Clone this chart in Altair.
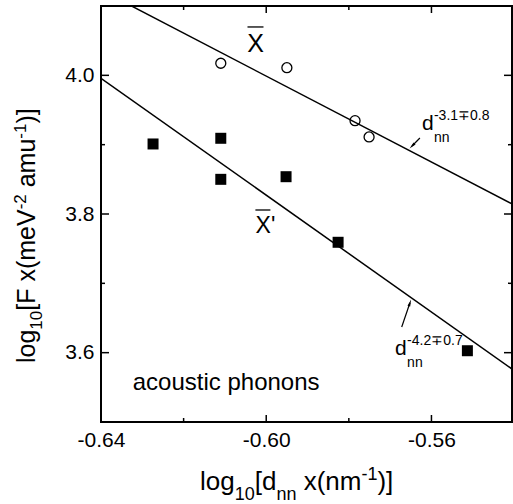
import altair as alt
import pandas as pd

# ---------------- data ----------------
circle_x = [-0.6110, -0.5950, -0.5785, -0.5751]
circle_y = [4.0174, 4.0110, 3.9346, 3.9111]
square_x = [-0.6274, -0.6110, -0.6110, -0.5952, -0.5826, -0.5513]
square_y = [3.9010, 3.9092, 3.8500, 3.8538, 3.7592, 3.6028]
fit_x = [-0.64, -0.5405]
upper_fit_y = [4.1229, 3.8145]
lower_fit_y = [3.9958, 3.5764]

x_major = [-0.64, -0.60, -0.56]
x_minor = [-0.62, -0.58]
y_major = [3.6, 3.8, 4.0]
y_minor = [3.7, 3.9]

X_DOMAIN = [-0.64, -0.5405]
Y_DOMAIN = [3.5, 4.1]

# annotation anchors (data coordinates)
xbar_pos = [-0.6026, 4.0337]
xbarp_pos = [-0.6002, 3.7726]
d_upper_pos = [-0.5623, 3.9211]
d_lower_pos = [-0.5688, 3.5966]
arrow_x = [-0.5628, -0.5672]
arrow_y = [3.9096, 3.6370]
arrow_x2 = [-0.5647, -0.5652]
arrow_y2 = [3.8981, 3.6720]
arrow_angle = [225, 19]
label_pos = [-0.6097, 3.5461]

W, H = 411, 416
FONT = "Liberation Sans"

xs = alt.Scale(domain=X_DOMAIN, nice=False, zero=False)
ys = alt.Scale(domain=Y_DOMAIN, nice=False, zero=False)

x_axis = alt.Axis(values=x_major,
                  labelExpr="datum.value < 0 ? '-' + format(-datum.value, '.2f') : format(datum.value, '.2f')",
                  ticks=False, domain=False, grid=False, labelFont=FONT, labelFontSize=21,
                  labelColor="black", labelPadding=7, title=None, labelFlush=False,
                  labelOverlap=False)
y_axis = alt.Axis(values=y_major, format=".1f", ticks=False, domain=False, grid=False,
                  labelFont=FONT, labelFontSize=21, labelColor="black", labelPadding=7,
                  title=None, labelFlush=False, labelOverlap=False)


def X(field):
    return alt.X(field, type="quantitative", scale=xs, axis=x_axis)


def Y(field):
    return alt.Y(field, type="quantitative", scale=ys, axis=y_axis)


# points
circ_df = pd.DataFrame({"x": circle_x, "y": circle_y})
sq_df = pd.DataFrame({"x": square_x, "y": square_y})
circles = alt.Chart(circ_df).mark_point(shape="circle", filled=False, size=100, strokeWidth=1.3,
                                        color="black", opacity=1).encode(
    x=X("x"), y=Y("y"))
squares = alt.Chart(sq_df).mark_point(shape="square", filled=True, size=121, color="black",
                                      opacity=1).encode(x=X("x"), y=Y("y"))

# fit lines
fit_df = pd.DataFrame({
    "x": fit_x + fit_x,
    "y": upper_fit_y + lower_fit_y,
    "s": ["upper"] * 2 + ["lower"] * 2,
})
fits = alt.Chart(fit_df).mark_line(color="black", strokeWidth=1.5, clip=True).encode(
    x=X("x"), y=Y("y"), detail="s:N")


# inward ticks on all four sides
def xticks(vals, length):
    df = pd.DataFrame({"v": vals})
    base = alt.Chart(df).mark_rule(color="black", strokeWidth=1.5)
    return [base.encode(x=X("v"), y=alt.value(H), y2=alt.value(H - length)),
            base.encode(x=X("v"), y=alt.value(0), y2=alt.value(length))]


def yticks(vals, length):
    df = pd.DataFrame({"v": vals})
    base = alt.Chart(df).mark_rule(color="black", strokeWidth=1.5)
    return [base.encode(y=Y("v"), x=alt.value(0), x2=alt.value(length)),
            base.encode(y=Y("v"), x=alt.value(W), x2=alt.value(W - length))]


tick_layers = xticks(x_major, 7) + xticks(x_minor, 4) + yticks(y_major, 8) + yticks(y_minor, 4)

# X-bar labels
xb_df = pd.DataFrame({"x": [xbar_pos[0], xbarp_pos[0]], "y": [xbar_pos[1], xbarp_pos[1]],
                      "t": ["X", "X'"], "fs": [25, 23]})
xb_text = alt.Chart(xb_df).mark_text(font=FONT, color="black", align="center",
                                     baseline="alphabetic").encode(
    x=X("x"), y=Y("y"), text="t:N", size=alt.Size("fs:Q", scale=None))
bar1 = alt.Chart(pd.DataFrame({"x": [xbar_pos[0]], "y": [xbar_pos[1]]})).mark_rule(
    color="black", strokeWidth=1.3, xOffset=-8, x2Offset=8, yOffset=-25, y2Offset=-25).encode(
    x=X("x"), x2="x", y=Y("y"), y2="y")
bar2 = alt.Chart(pd.DataFrame({"x": [xbarp_pos[0]], "y": [xbarp_pos[1]]})).mark_rule(
    color="black", strokeWidth=1.3, xOffset=-10, x2Offset=5, yOffset=-23, y2Offset=-23).encode(
    x=X("x"), x2="x", y=Y("y"), y2="y")


# d_nn annotations
def dlabel(pos, sup):
    df = pd.DataFrame({"x": [pos[0]], "y": [pos[1]]})
    base = alt.Chart(df)
    return [
        base.mark_text(text="d", font=FONT, fontSize=21, align="left", baseline="alphabetic",
                       color="black").encode(x=X("x"), y=Y("y")),
        base.mark_text(text="nn", font=FONT, fontSize=14, align="left", baseline="alphabetic",
                       color="black", dx=12, dy=12).encode(x=X("x"), y=Y("y")),
        base.mark_text(text=sup, font=FONT, fontSize=14, align="left", baseline="alphabetic",
                       color="black", dx=12, dy=-10).encode(x=X("x"), y=Y("y")),
    ]


d_layers = dlabel(d_upper_pos, "-3.1\u22130.8") + dlabel(d_lower_pos, "-4.2\u22130.7")

arr_df = pd.DataFrame({"x": arrow_x, "y": arrow_y, "x2": arrow_x2, "y2": arrow_y2,
                       "a": arrow_angle})
shafts = alt.Chart(arr_df).mark_rule(color="black", strokeWidth=1.2).encode(
    x=X("x"), y=Y("y"), x2="x2", y2="y2")
heads = alt.Chart(arr_df).mark_point(shape="M0,-1L0.4,1L-0.4,1Z", filled=True, size=50,
                                     color="black", opacity=1).encode(
    x=X("x2"), y=Y("y2"), angle=alt.Angle("a:Q", scale=None))

lbl = alt.Chart(pd.DataFrame({"x": [label_pos[0]], "y": [label_pos[1]]})).mark_text(
    text="acoustic phonons", font=FONT, fontSize=24, align="center", baseline="alphabetic",
    color="black").encode(x=X("x"), y=Y("y"))

# axis titles built from pieces (sub/superscripts)
ARIAL = {'l': 222, 'o': 556, 'g': 556, '1': 556, '0': 556, '[': 278, 'F': 611, ' ': 278,
         'x': 500, '(': 333, 'm': 833, 'e': 556, 'V': 667, '-': 333, '2': 556, 'a': 556,
         'u': 556, ')': 333, ']': 278, 'd': 556, 'n': 556}


def tw(s, fs):
    return sum(ARIAL[c] for c in s) / 1000.0 * fs


xt_pieces = [("log", 26, 0, 0), ("10", 18, 10, 0), ("[d", 26, 0, 0), ("nn", 18, 10, 0),
             ("x(nm", 26, 0, 0.278 * 26), ("-1", 18, -10, 0), (")]", 26, 0, 0)]
rows = []
cx = 200 - 101
for t, fs, sh, pre in xt_pieces:
    cx += pre
    rows.append({"t": t, "fs": fs, "px": cx, "py": 490 - 6 + sh})
    cx += tw(t, fs)
xtitle = alt.Chart(pd.DataFrame(rows)).mark_text(font=FONT, color="black", align="left",
                                                 baseline="alphabetic").encode(
    x=alt.X("px:Q", scale=None), y=alt.Y("py:Q", scale=None), text="t:N",
    size=alt.Size("fs:Q", scale=None))

yt_pieces = [("log", 25, 0, 0), ("10", 17, 7, 0), ("[F x(meV", 25, 0, 0), ("-2", 17, -9, 0),
             ("amu", 25, 0, 0.278 * 25), ("-1", 17, -9, 0), (")]", 25, 0, 0)]
rows = []
cy = 363 - 6
for t, fs, sh, pre in yt_pieces:
    cy -= pre
    rows.append({"t": t, "fs": fs, "px": 35 - 101 + sh, "py": cy})
    cy -= tw(t, fs)
ytitle = alt.Chart(pd.DataFrame(rows)).mark_text(font=FONT, color="black", align="left",
                                                 baseline="alphabetic", angle=270).encode(
    x=alt.X("px:Q", scale=None), y=alt.Y("py:Q", scale=None), text="t:N",
    size=alt.Size("fs:Q", scale=None))

chart = alt.layer(
    circles, squares, fits, *tick_layers, xb_text, bar1, bar2, *d_layers, shafts, heads, lbl,
    xtitle, ytitle
).properties(
    width=W, height=H, autosize=alt.AutoSizeParams(type="none"),
    padding={"left": 101, "top": 6, "right": 1, "bottom": 82}
).configure(
    background="white",
    view=alt.ViewConfig(stroke="black", strokeWidth=2),
)

chart.save("out.html", embed_options={"renderer": "svg", "actions": False})
